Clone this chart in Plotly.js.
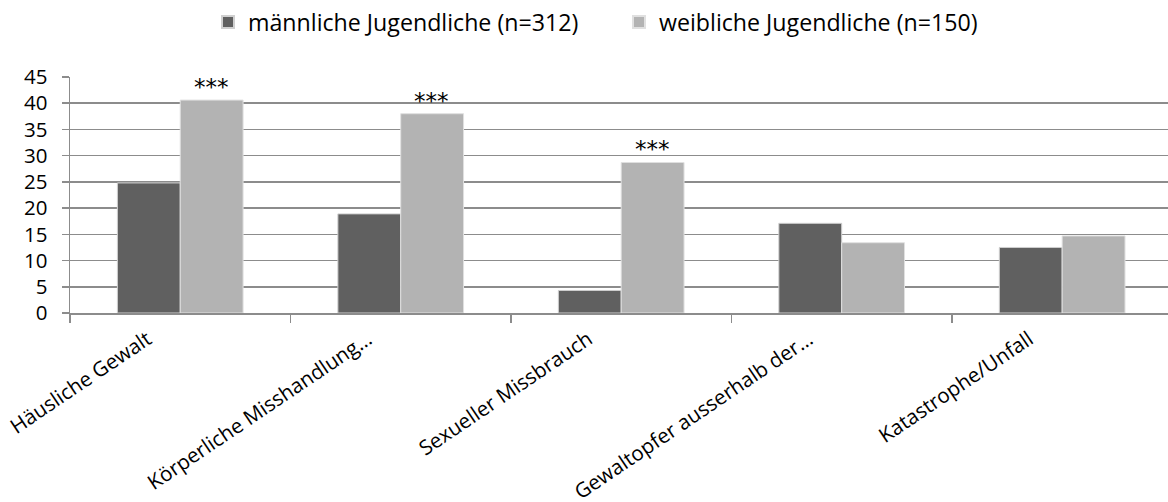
<!DOCTYPE html>
<html>
<head>
<meta charset="utf-8">
<script src="https://cdn.plot.ly/plotly-3.0.1.min.js"></script>
<style>html,body{margin:0;padding:0;background:#fff;}#chart{width:1168px;height:502px;}</style>
</head>
<body>
<div id="chart"></div>
<script>
const categories = ["Häusliche Gewalt", "Körperliche Misshandlung…", "Sexueller Missbrauch", "Gewaltopfer ausserhalb der…", "Katastrophe/Unfall"];
const maleName = "männliche Jugendliche (n=312)";
const femaleName = "weibliche Jugendliche (n=150)";
const maleValues = [24.8, 18.9, 4.3, 17.1, 12.5];
const femaleValues = [40.6, 38.0, 28.7, 13.4, 14.7];
const significance = ["***", "***", "***", "", ""];
const yTicks = [0, 5, 10, 15, 20, 25, 30, 35, 40, 45];

const FONT = "'Open Sans', Lato, sans-serif";

const traces = [
  {type: "bar", name: maleName, x: categories, y: maleValues,
   marker: {color: "#606060", line: {color: "#d0d0d0", width: 1}}, hoverinfo: "skip"},
  {type: "bar", name: femaleName, x: categories, y: femaleValues,
   marker: {color: "#b3b3b3", line: {color: "#e0e0e0", width: 1}}, hoverinfo: "skip"}
];

const annotations = [];
categories.forEach((c, i) => {
  if (significance[i]) {
    annotations.push({
      x: c, y: femaleValues[i], xref: "x", yref: "y",
      text: significance[i], showarrow: false,
      xshift: 31, yanchor: "bottom", yshift: -2,
      font: {family: "'DejaVu Sans', sans-serif", size: 23, color: "#000"}
    });
  }
});

const layout = {
  width: 1168, height: 502,
  margin: {l: 70, r: 0, t: 77, b: 189},
  paper_bgcolor: "#fff", plot_bgcolor: "#fff",
  font: {family: FONT, size: 22, color: "#000"},
  barmode: "group", bargap: 0.43, bargroupgap: 0,
  showlegend: true,
  legend: {orientation: "h", x: 0.5, xanchor: "center", y: 1.325, yanchor: "top",
           font: {family: FONT, size: 23.2, color: "#000"}, itemsizing: "constant",
           traceorder: "normal", entrywidth: 366},
  xaxis: {
    range: [-0.5, 4.48], type: "category",
    showline: true, linecolor: "#8c8c8c", linewidth: 1.5,
    ticks: "outside", tickson: "boundaries", ticklen: 8, tickcolor: "#8c8c8c", tickwidth: 1.5,
    tickangle: -34, tickfont: {family: FONT, size: 20.5, color: "#000"},
    ticklabelshift: -33, ticklabelstandoff: 5,
    showgrid: false, fixedrange: true
  },
  yaxis: {
    range: [0, 45], tickvals: yTicks, ticktext: yTicks.map(String),
    showline: true, linecolor: "#8c8c8c", linewidth: 1.5,
    ticks: "outside", ticklen: 7, tickcolor: "#8c8c8c", tickwidth: 1.5,
    ticklabelstandoff: 10,
    showgrid: true, gridcolor: "#8c8c8c", gridwidth: 1.5,
    zeroline: false, tickfont: {family: FONT, size: 20.5, color: "#000"},
    fixedrange: true
  },
  annotations: annotations
};

Plotly.newPlot("chart", traces, layout, {displayModeBar: false, staticPlot: true});
</script>
</body>
</html>
